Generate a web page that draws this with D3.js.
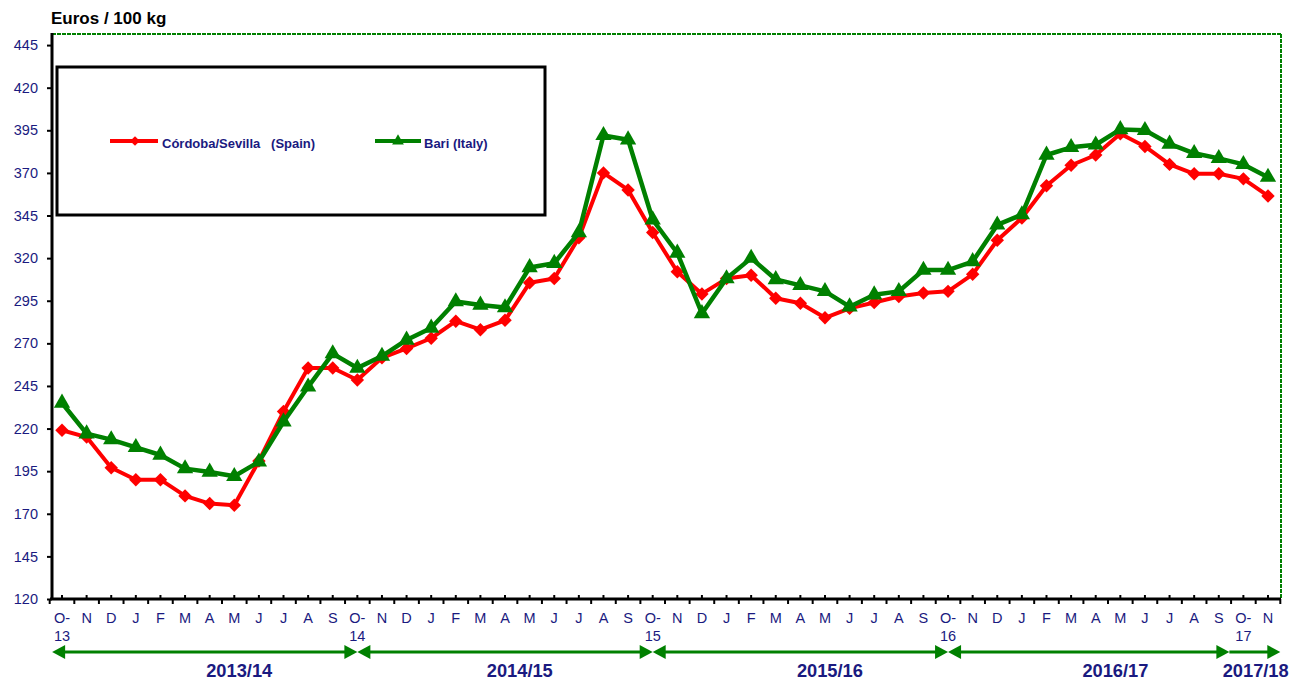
<!DOCTYPE html>
<html>
<head>
<meta charset="utf-8">
<script src="https://cdn.jsdelivr.net/npm/d3@7/dist/d3.min.js"></script>
<style>
  html, body { margin: 0; padding: 0; background: #fff; }
  svg { display: block; font-family: "Liberation Sans", Arial, sans-serif; }
</style>
</head>
<body>
<svg id="chart" width="1303" height="682"></svg>
<script>
// ---------------- DATA ----------------
const categories = [
  "O-\n13","N","D","J","F","M","A","M","J","J","A","S",
  "O-\n14","N","D","J","F","M","A","M","J","J","A","S",
  "O-\n15","N","D","J","F","M","A","M","J","J","A","S",
  "O-\n16","N","D","J","F","M","A","M","J","J","A","S",
  "O-\n17","N"
];
const cordobaSevilla = [
  219, 215, 197, 190, 190, 180.5, 176, 175, 201, 230, 255.5, 255.5,
  248.5, 261.5, 267, 273, 283, 278, 283.5, 305.5, 308, 332, 370, 360,
  335, 312, 299, 308, 310, 296.5, 293.5, 285, 290.5, 294, 297.5, 299.5,
  300.5, 310.5, 330.5, 343.5, 362.5, 374.5, 380.5, 393, 385.5, 375, 369.5, 369.5,
  366.5, 356.5
];
const bari = [
  235, 217, 213.5, 209, 204.5, 196.5, 194.5, 192, 200.5, 224, 244.5, 264,
  255.5, 262.5, 272, 279, 294.5, 292.5, 291, 314.5, 317, 335, 392, 389.5,
  342.5, 323, 287.5, 308, 320, 307.5, 304, 300.5, 291.5, 298.5, 300.5, 313,
  313, 318, 339.5, 345.5, 380.5, 385, 386.5, 395.5, 395, 387, 381.5, 378.5,
  375, 367.5
];
const yTicks = [120, 145, 170, 195, 220, 245, 270, 295, 320, 345, 370, 395, 420, 445];
const seasons = ["2013/14", "2014/15", "2015/16", "2016/17", "2017/18"];
const seriesNames = ["Córdoba/Sevilla   (Spain)", "Bari (Italy)"];
const yTitle = "Euros / 100 kg";

// ---------------- LAYOUT ----------------
const svg = d3.select("#chart");
const NAVY = "#1a1a80";
const RED = "#ff0000";
const GREEN = "#008000";
const plot = { left: 52, right: 1281, top: 34, bottom: 599 };

const x = d3.scaleLinear().domain([0, categories.length - 1]).range([62, 1268]);
const y = d3.scaleLinear().domain([120, 451.5]).range([plot.bottom, plot.top]);

// Title
svg.append("text").attr("x", 51).attr("y", 24)
  .attr("font-size", 17).attr("font-weight", "bold").attr("fill", "#000")
  .text(yTitle);

// Plot frame: top and right dashed green
svg.append("line").attr("x1", plot.left).attr("x2", plot.right).attr("y1", plot.top).attr("y2", plot.top)
  .attr("stroke", GREEN).attr("stroke-width", 2).attr("stroke-dasharray", "4,1");
svg.append("line").attr("x1", plot.right).attr("x2", plot.right).attr("y1", plot.top).attr("y2", plot.bottom)
  .attr("stroke", GREEN).attr("stroke-width", 2).attr("stroke-dasharray", "4,1");

// Y axis
const yAxis = d3.axisLeft(y).tickValues(yTicks).tickSize(5).tickPadding(9).tickFormat(d3.format("d"));
const gy = svg.append("g").attr("transform", `translate(${plot.left},0)`).call(yAxis);
gy.select(".domain").remove();
gy.selectAll(".tick line").attr("stroke", "#000").attr("stroke-width", 2);
gy.selectAll(".tick text").attr("fill", NAVY).attr("font-size", 14.5)
  .attr("font-family", "'Liberation Sans', Arial, sans-serif");
svg.append("line").attr("x1", plot.left).attr("x2", plot.left).attr("y1", plot.top - 1).attr("y2", plot.bottom + 1)
  .attr("stroke", "#000").attr("stroke-width", 3);

// X axis: ticks up at categories, down at midpoints
const gx = svg.append("g");
const idx = d3.range(categories.length);
gx.selectAll("line.up").data(idx).join("line")
  .attr("x1", d => x(d)).attr("x2", d => x(d)).attr("y1", plot.bottom - 4).attr("y2", plot.bottom)
  .attr("stroke", "#000").attr("stroke-width", 2);
gx.selectAll("line.dn").data(d3.range(categories.length + 1)).join("line")
  .attr("x1", d => x(d - 0.5)).attr("x2", d => x(d - 0.5)).attr("y1", plot.bottom).attr("y2", plot.bottom + 5)
  .attr("stroke", "#000").attr("stroke-width", 2);
svg.append("line").attr("x1", plot.left - 2).attr("x2", plot.right).attr("y1", plot.bottom).attr("y2", plot.bottom)
  .attr("stroke", "#000").attr("stroke-width", 3);

const xl = gx.selectAll("text.xl").data(categories).join("text")
  .attr("text-anchor", "middle").attr("fill", NAVY).attr("font-size", 14.5)
  .attr("transform", (d, i) => `translate(${x(i)},623)`);
xl.each(function(d) {
  const parts = d.split("\n");
  const t = d3.select(this);
  parts.forEach((p, k) => t.append("tspan").attr("x", 0).attr("y", k * 18).text(p));
});

// Season arrows
const bounds = [x(-0.4), x(12), x(24), x(36), x(47.43), x(49.5)];
const labelX = [x(7.2), x(18.6), x(31.2), x(42.8), x(48.5)];
const ay = 652, ah = 13, aw = 7;
const ga = svg.append("g");
seasons.forEach((s, i) => {
  const x0 = bounds[i], x1 = bounds[i + 1];
  const last = i === seasons.length - 1;
  ga.append("line").attr("x1", x0 + (last ? 0 : ah - 1)).attr("x2", x1 - ah + 1).attr("y1", ay).attr("y2", ay)
    .attr("stroke", GREEN).attr("stroke-width", 3);
  if (!last) {
    ga.append("path").attr("d", `M${x0},${ay} L${x0 + ah},${ay - aw} L${x0 + ah},${ay + aw} Z`).attr("fill", GREEN);
  }
  ga.append("path").attr("d", `M${x1},${ay} L${x1 - ah},${ay - aw} L${x1 - ah},${ay + aw} Z`).attr("fill", GREEN);
  ga.append("text").attr("x", labelX[i]).attr("y", 677).attr("text-anchor", "middle")
    .attr("font-size", 18).attr("font-weight", "bold").attr("fill", NAVY)
    .attr("textLength", 66).attr("lengthAdjust", "spacingAndGlyphs").text(s);
});

// Legend box
svg.append("rect").attr("x", 57).attr("y", 67).attr("width", 488).attr("height", 148)
  .attr("fill", "#fff").attr("stroke", "#000").attr("stroke-width", 3);

// Markers
const diamond = d3.symbol().type(d3.symbolDiamond2).size(115);
const triangle = d3.symbol().type(d3.symbolTriangle).size(115);

// Legend entries
const lg = svg.append("g");
lg.append("line").attr("x1", 110).attr("x2", 158).attr("y1", 141).attr("y2", 141).attr("stroke", RED).attr("stroke-width", 4);
lg.append("path").attr("d", d3.symbol().type(d3.symbolDiamond2).size(60)).attr("transform", "translate(135,141)").attr("fill", RED);
lg.append("text").attr("x", 162).attr("y", 147.5).attr("font-size", 13).attr("font-weight", "bold").attr("fill", NAVY)
  .attr("xml:space", "preserve").style("white-space", "pre").text(seriesNames[0]);
lg.append("line").attr("x1", 375).attr("x2", 421).attr("y1", 141).attr("y2", 141).attr("stroke", GREEN).attr("stroke-width", 4);
lg.append("path").attr("d", d3.symbol().type(d3.symbolTriangle).size(60)).attr("transform", "translate(398,141)").attr("fill", GREEN);
lg.append("text").attr("x", 424).attr("y", 147.5).attr("font-size", 13).attr("font-weight", "bold").attr("fill", NAVY)
  .text(seriesNames[1]);

// Series lines
const line = d3.line().x((d, i) => x(i)).y(d => y(d));
const gs = svg.append("g");
gs.append("path").datum(cordobaSevilla).attr("d", line).attr("fill", "none")
  .attr("stroke", RED).attr("stroke-width", 4).attr("stroke-linejoin", "round");
gs.selectAll("path.dm").data(cordobaSevilla).join("path").attr("class", "dm")
  .attr("d", diamond).attr("transform", (d, i) => `translate(${x(i)},${y(d)})`).attr("fill", RED);
gs.append("path").datum(bari).attr("d", line).attr("fill", "none")
  .attr("stroke", GREEN).attr("stroke-width", 4.5).attr("stroke-linejoin", "round");
gs.selectAll("path.tr").data(bari).join("path").attr("class", "tr")
  .attr("d", triangle).attr("transform", (d, i) => `translate(${x(i)},${y(d)})`).attr("fill", GREEN);
</script>
</body>
</html>
